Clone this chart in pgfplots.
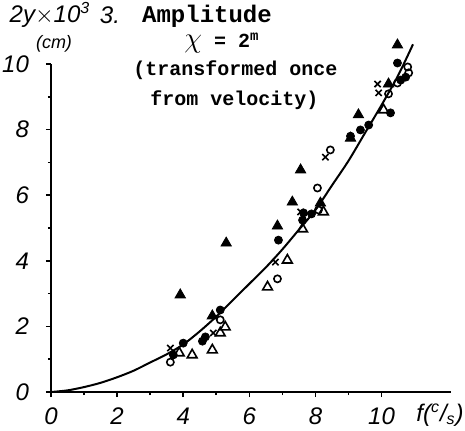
\documentclass[border=0pt]{standalone}
\usepackage{fontspec}
\usepackage{pgfplots}
\pgfplotsset{compat=1.18}
\setmainfont{Liberation Sans}
\newfontfamily\typew{Liberation Mono}
\newfontfamily\hand{Liberation Sans}

\begin{document}
\begin{tikzpicture}
\begin{axis}[
    scale only axis,
    width=200pt, height=164pt,
    xmin=0, xmax=12.1, ymin=0, ymax=10,
    clip=false,
    axis x line*=bottom, axis y line*=left,
    axis line style={line width=1.4pt, -},
    xtick={0,2,4,6,8,10}, xticklabels={0,2,4,6,8,10},
    ytick={0,2,4,6,8,10}, yticklabels={0,2,4,6,8,10},
    minor tick num=1,
    major tick length=2.5pt, minor tick length=1.5pt,
    tick align=outside,
    tick style={line width=0.8pt, black},
    ticklabel style={font=\hand\itshape\large},
    yticklabel style={xshift=-5pt},
    xticklabel style={yshift=-2pt},
]
% fitted curve
\addplot[line width=1pt, smooth, black] coordinates {
  (0,0) (0.5,0.05) (1,0.15) (1.5,0.28) (2,0.45) (2.5,0.65) (3,0.9)
  (3.5,1.15) (4,1.45) (4.5,1.85) (5,2.3) (5.5,2.8) (6,3.3) (6.5,3.8)
  (7,4.35) (7.5,4.95) (8,5.55) (8.5,6.3) (9,7.05) (9.5,7.9) (10,8.75)
  (10.5,9.65) (10.95,10.6)};
% filled triangles
\addplot[only marks, mark=triangle*, mark size=3pt, black] coordinates {
  (3.91,2.96) (5.30,4.54) (4.88,2.32) (6.85,5.06) (7.30,5.79) (7.55,6.77)
  (8.15,5.76) (9.30,8.45) (9.06,7.74) (10.21,9.39) (10.48,10.58)};
% open triangles
\addplot[only marks, mark=triangle, mark size=2.8pt, black, mark options={line width=0.8pt}] coordinates {
  (3.88,1.19) (4.27,1.13) (4.88,1.28) (5.27,1.98) (5.12,1.80) (6.55,3.20)
  (7.15,4.02) (7.61,4.97) (8.24,5.49) (10.06,8.60)};
% filled circles
\addplot[only marks, mark=*, mark size=2pt, black] coordinates {
  (3.70,1.13) (4.00,1.49) (4.58,1.55) (4.67,1.68) (5.12,2.50) (6.88,4.63)
  (7.61,5.24) (7.64,5.46) (7.88,5.43) (9.36,7.99) (9.61,8.14) (9.06,7.80)
  (10.48,10.03) (10.27,8.51) (10.58,9.51) (10.73,9.60)};
% open circles
\addplot[only marks, mark=o, mark size=1.8pt, black, mark options={line width=0.8pt}] coordinates {
  (3.61,0.91) (5.12,2.20) (6.85,3.45) (8.06,6.22) (8.09,5.55) (8.45,7.38)
  (10.21,9.09) (10.79,9.91) (10.82,9.73) (10.48,9.42)};
% crosses
\addplot[only marks, mark=x, mark size=2.2pt, black, mark options={line width=0.8pt}] coordinates {
  (3.61,1.34) (4.91,1.80) (6.79,3.96) (7.55,5.49) (8.30,7.16) (9.88,9.39) (9.91,9.12)};
\end{axis}
% annotations (origin of the axis at 0,0)
\node[font=\hand\itshape\large] at (-0.5pt,188.5pt) {2y$\times$10\textsuperscript{3}};
\node[font=\hand\itshape\small] at (1.5pt,174pt) {(cm)};
\node[font=\hand\itshape\large] at (29.5pt,188.5pt) {3.};
\node[font=\typew\bfseries\large] at (78pt,188pt) {Amplitude};
\node[font=\typew\bfseries] at (85.5pt,174.5pt) {{\Large$\chi$} = 2\textsuperscript{m}};
\node[font=\typew\bfseries, anchor=west, inner sep=0pt] at (41pt,161pt) {(transformed once};
\node[font=\typew\bfseries, anchor=west, inner sep=0pt] at (49.5pt,146pt) {from velocity)};
\node[font=\hand\itshape\large] at (194.5pt,-11.5pt) {f(\textsuperscript{c}/\textsubscript{s})};
\pgfresetboundingbox
\path[use as bounding box] (-25.5pt,-19pt) rectangle (207pt,196pt);
\end{tikzpicture}
\end{document}
